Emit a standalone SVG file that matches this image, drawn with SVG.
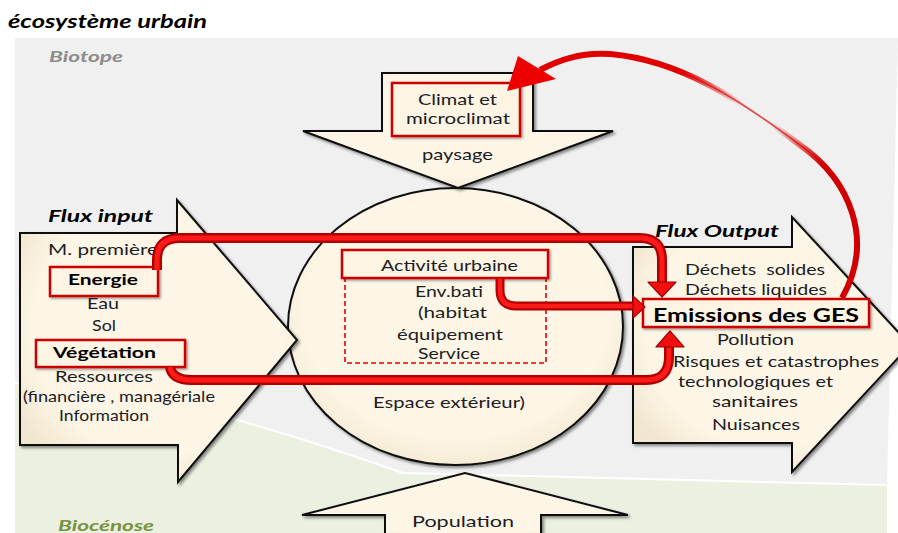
<svg xmlns="http://www.w3.org/2000/svg" width="898" height="533" viewBox="0 0 898 533">
  <defs>
    <filter id="sh" x="-10%" y="-10%" width="125%" height="125%">
      <feDropShadow dx="2" dy="2" stdDeviation="1.6" flood-color="#000" flood-opacity="0.45"/>
    </filter>
    <filter id="shs" x="-10%" y="-20%" width="125%" height="150%">
      <feDropShadow dx="1.5" dy="1.5" stdDeviation="1" flood-color="#000" flood-opacity="0.4"/>
    </filter>
    <radialGradient id="cream" cx="50%" cy="45%" r="60%">
      <stop offset="0.75" stop-color="#fdf6e6"/>
      <stop offset="1" stop-color="#f1e6cf"/>
    </radialGradient>
    <linearGradient id="fade" gradientUnits="userSpaceOnUse" x1="540" y1="60" x2="860" y2="300">
      <stop offset="0" stop-color="#e00000" stop-opacity="1"/>
      <stop offset="0.3" stop-color="#e00000" stop-opacity="1"/>
      <stop offset="0.47" stop-color="#e00000" stop-opacity="0"/>
      <stop offset="0.56" stop-color="#e00000" stop-opacity="0"/>
      <stop offset="0.72" stop-color="#d00000" stop-opacity="1"/>
      <stop offset="1" stop-color="#d00000" stop-opacity="1"/>
    </linearGradient>
  </defs>
  <style>
    .shape { fill: url(#cream); stroke: #111; stroke-width: 2; filter: url(#sh); }
    .box { fill: #fdf4e3; stroke: #cc0000; stroke-width: 2.5; filter: url(#shs); }
    .dash { fill: none; stroke: #e00000; stroke-width: 1.6; stroke-dasharray: 5 3; }
    .t { font-family: Lato, "Liberation Sans", sans-serif; font-size: 15px; fill: #1c1c24; }
    .c { font-size: 16px; }
    .b { font-weight: bold; fill: #000; }
    .h { font-weight: bold; font-style: italic; font-size: 17px; fill: #000; }
    .tubeO { fill: none; stroke: #b00000; stroke-width: 10; stroke-linecap: butt; }
    .tubeI { fill: none; stroke: #ff1a1a; stroke-width: 5; stroke-linecap: butt; }
    .head { fill: #f01010; stroke: #a00000; stroke-width: 1.2; stroke-linejoin: round; }
  </style>

  <!-- environment zones -->
  <g id="zones">
    <path d="M15,38 L898,38 L887,485 L403,473 C250,420 150,390 15,383 Z" fill="#f0f0f0"/>
    <path d="M15,383 C150,390 250,420 403,473 L887,485 L887,533 L15,533 Z" fill="#ebf0e0"/>
    <path d="M15,383 C150,390 250,420 403,473 L887,485" fill="none" stroke="#ffffff" stroke-width="2"/>
    <text class="t h" x="8" y="28" textLength="199" lengthAdjust="spacingAndGlyphs" style="font-size:18px">écosystème urbain</text>
    <text class="t h" x="49" y="62" textLength="74" lengthAdjust="spacingAndGlyphs" style="font-size:16px;fill:#8c8c8c">Biotope</text>
    <text class="t h" x="58" y="531" textLength="96" lengthAdjust="spacingAndGlyphs" style="font-size:16px;fill:#77933c">Biocénose</text>
  </g>

  <!-- urban system (centre) -->
  <g id="ville">
    <ellipse class="shape" cx="455.5" cy="326.5" rx="167.5" ry="138.5"/>
    <rect class="dash" x="345" y="278" width="201" height="85"/>
    <rect class="box" x="342" y="250" width="206" height="28"/>
    <text class="t c" x="381" y="271" textLength="137" lengthAdjust="spacingAndGlyphs">Activité urbaine</text>
    <text class="t c" x="415" y="297" textLength="68" lengthAdjust="spacingAndGlyphs">Env.bati</text>
    <text class="t c" x="418" y="318" textLength="69" lengthAdjust="spacingAndGlyphs">(habitat</text>
    <text class="t c" x="397" y="340" textLength="106" lengthAdjust="spacingAndGlyphs">équipement</text>
    <text class="t c" x="418" y="359" textLength="62" lengthAdjust="spacingAndGlyphs">Service</text>
    <text class="t c" x="373" y="408" textLength="152" lengthAdjust="spacingAndGlyphs">Espace extérieur)</text>
  </g>

  <!-- climate arrow (top) -->
  <g id="climat">
    <path class="shape" d="M382,73 H533 V131 H613 L458,188 L303,131 H382 Z"/>
    <rect class="box" x="392" y="83" width="128" height="53"/>
    <text class="t" x="418" y="105" textLength="79" lengthAdjust="spacingAndGlyphs">Climat et</text>
    <text class="t" x="406" y="124" textLength="104" lengthAdjust="spacingAndGlyphs">microclimat</text>
    <text class="t" x="422" y="160" textLength="71" lengthAdjust="spacingAndGlyphs">paysage</text>
  </g>

  <!-- input flows (left) -->
  <g id="flux-input">
    <path class="shape" d="M20,233 H177 V200 L297,340 L178,482 V445 H20 Z"/>
    <text class="t h" x="48" y="222" textLength="105" lengthAdjust="spacingAndGlyphs">Flux input</text>
    <text class="t" x="48" y="255" textLength="110" lengthAdjust="spacingAndGlyphs">M. première</text>
    <rect class="box" x="50" y="267" width="108" height="29"/>
    <text class="t b" x="68" y="285" textLength="70" lengthAdjust="spacingAndGlyphs">Energie</text>
    <text class="t" x="87" y="309" textLength="32" lengthAdjust="spacingAndGlyphs">Eau</text>
    <text class="t" x="92" y="331" textLength="24" lengthAdjust="spacingAndGlyphs">Sol</text>
    <rect class="box" x="36" y="340" width="149" height="27"/>
    <text class="t b" x="53" y="358" textLength="103" lengthAdjust="spacingAndGlyphs">Végétation</text>
    <text class="t" x="55" y="382" textLength="98" lengthAdjust="spacingAndGlyphs">Ressources</text>
    <text class="t" x="23" y="402" textLength="192" lengthAdjust="spacingAndGlyphs">(financière , managériale</text>
    <text class="t" x="59" y="421" textLength="90" lengthAdjust="spacingAndGlyphs">Information</text>
  </g>

  <!-- output flows (right) -->
  <g id="flux-output">
    <path class="shape" d="M633,247 H792 V217 L910,345 L792,472 V443 H633 Z"/>
    <text class="t h" x="655" y="237" textLength="124" lengthAdjust="spacingAndGlyphs">Flux Output</text>
    <text class="t" x="685" y="275" textLength="140" lengthAdjust="spacingAndGlyphs" xml:space="preserve">Déchets  solides</text>
    <text class="t" x="685" y="295" textLength="142" lengthAdjust="spacingAndGlyphs">Déchets liquides</text>
    <rect class="box" x="643" y="299" width="226" height="28"/>
    <text class="t b" x="653" y="322" textLength="206" lengthAdjust="spacingAndGlyphs" style="font-size:19px">Emissions des GES</text>
    <text class="t" x="717" y="345" textLength="77" lengthAdjust="spacingAndGlyphs">Pollution</text>
    <text class="t" x="673" y="367" textLength="206" lengthAdjust="spacingAndGlyphs">Risques et catastrophes</text>
    <text class="t" x="678" y="387" textLength="155" lengthAdjust="spacingAndGlyphs">technologiques et</text>
    <text class="t" x="712" y="407" textLength="86" lengthAdjust="spacingAndGlyphs">sanitaires</text>
    <text class="t" x="712" y="430" textLength="88" lengthAdjust="spacingAndGlyphs">Nuisances</text>
  </g>

  <!-- population arrow (bottom) -->
  <g id="population">
    <path class="shape" d="M385,540 V515 H302 L465,473 L628,515 H541 V540 Z"/>
    <text class="t c" x="412" y="527" textLength="102" lengthAdjust="spacingAndGlyphs">Population</text>
  </g>

  <!-- flow connectors -->
  <g id="connectors">
    <!-- Energie -> Emissions -->
    <path class="tubeO" d="M157,270 V260 Q157,238 180,238 H640 Q662,238 662,260 V283"/>
    <path class="tubeI" d="M157,270 V260 Q157,238 180,238 H640 Q662,238 662,260 V283"/>
    <path class="head" d="M662,297 L648,282 H676 Z"/>
    <!-- Activité urbaine -> Emissions -->
    <path class="tubeO" d="M500,279 V290 Q500,306 516,306 H634" style="stroke-width:9"/>
    <path class="tubeI" d="M500,279 V290 Q500,306 516,306 H634" style="stroke-width:4.5"/>
    <path class="head" d="M645,307 L633,296 V318 Z"/>
    <!-- Végétation -> Emissions -->
    <path class="tubeO" d="M170,367 Q172,380 192,380 H646 Q669,380 669,357 V346"/>
    <path class="tubeI" d="M170,367 Q172,380 192,380 H646 Q669,380 669,357 V346"/>
    <path class="head" d="M670,331 L656,347 H684 Z"/>
    <!-- Emissions -> Climat feedback -->
    <path d="M842,298 C875,240 850,180 800,145 C740,100 680,60 610,54 C585,52 562,58 540,70" fill="none" stroke="#e25050" stroke-width="1.8"/>
    <path d="M842,298 C875,240 850,180 800,145 C740,100 680,60 610,54 C585,52 562,58 540,70" fill="none" stroke="url(#fade)" stroke-width="6"/>
    <path d="M507,91 L518,56 L556,79 Z" fill="#ee0000"/>
  </g>
</svg>
